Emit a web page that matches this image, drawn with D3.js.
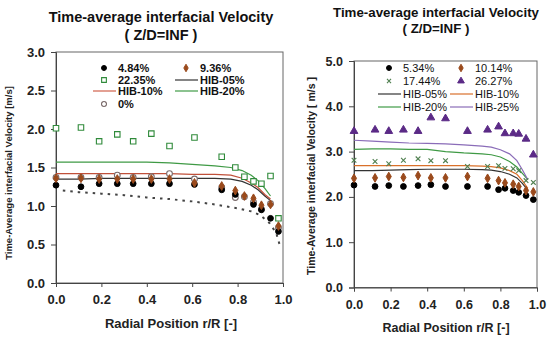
<!DOCTYPE html>
<html><head><meta charset="utf-8">
<script src="https://cdn.jsdelivr.net/npm/d3@7"></script>
<style>body{margin:0;background:#fff}svg{display:block;font-family:Arial,"Liberation Sans",sans-serif}</style>
</head><body><svg id="c" width="550" height="339"></svg>
<script>
// ---------- LEFT PANEL DATA ----------
const leftR = [0, 0.11, 0.19, 0.27, 0.34, 0.42, 0.50, 0.61, 0.73, 0.79, 0.83, 0.87, 0.905, 0.945, 0.98];
const left484 = [1.27, 1.25, 1.29, 1.29, 1.29, 1.29, 1.29, 1.28, 1.21, 1.15, null, 1.02, 0.95, 0.84, 0.67];
const left936 = [1.36, 1.36, 1.35, 1.35, 1.35, 1.35, 1.35, 1.30, 1.26, 1.20, 1.13, 1.10, 1.01, 1.02, 0.74];
const left2235 = [2.01, 2.02, 1.84, 1.93, 1.84, 1.94, 1.78, 1.89, 1.64, 1.50, 1.38, 1.32, 1.29, 1.39, 0.84];
const left0 = [1.37, 1.37, 1.37, 1.40, 1.37, 1.38, 1.42, 1.35, 1.24, 1.11, 1.12, 1.05, 0.96, 1.03, 0.72];
const leftLineR = [0, 0.1, 0.2, 0.3, 0.4, 0.5, 0.6, 0.7, 0.77, 0.82, 0.86, 0.89, 0.92, 0.945];
const leftHIB05 = [1.35, 1.35, 1.36, 1.36, 1.36, 1.36, 1.36, 1.36, 1.35, 1.32, 1.27, 1.21, 1.13, 1.07];
const leftHIB10 = [1.42, 1.42, 1.42, 1.42, 1.42, 1.42, 1.41, 1.41, 1.40, 1.36, 1.30, 1.24, 1.15, 1.09];
const leftHIB20 = [1.57, 1.57, 1.57, 1.57, 1.57, 1.56, 1.54, 1.52, 1.50, 1.46, 1.40, 1.33, 1.23, 1.13];
const leftDotR = [0.03, 0.1, 0.2, 0.3, 0.4, 0.5, 0.6, 0.7, 0.8, 0.86, 0.9, 0.94, 0.97, 0.99];
const leftDot = [1.20, 1.18, 1.16, 1.14, 1.11, 1.09, 1.06, 1.02, 0.97, 0.93, 0.88, 0.78, 0.65, 0.45];
const leftYTicks = [0, 0.5, 1.0, 1.5, 2.0, 2.5, 3.0];

// ---------- RIGHT PANEL DATA ----------
const rightR = [0, 0.115, 0.19, 0.27, 0.35, 0.42, 0.50, 0.62, 0.73, 0.79, 0.825, 0.87, 0.90, 0.94, 0.98];
const right534 = [2.26, 2.23, 2.25, 2.23, 2.25, 2.27, 2.23, 2.23, 2.23, 2.16, 2.19, 2.14, 2.10, 2.03, 1.94];
const right1014 = [2.41, 2.42, 2.45, 2.43, 2.47, 2.42, 2.42, 2.45, 2.41, 2.36, 2.31, 2.28, 2.23, 2.14, 2.11];
const right1744 = [2.81, 2.78, 2.73, 2.81, 2.84, 2.80, 2.80, 2.67, 2.67, 2.69, 2.63, 2.62, 2.58, 2.36, 2.32];
const right2627 = [3.45, 3.48, 3.45, 3.48, 3.45, 3.75, 3.73, 3.45, 3.48, 3.55, 3.40, 3.40, 3.39, 3.28, 2.93];
const rightLineR = [0, 0.1, 0.2, 0.3, 0.4, 0.5, 0.6, 0.7, 0.75, 0.8, 0.85, 0.89, 0.92, 0.95];
const rightHIB05 = [2.58, 2.58, 2.59, 2.60, 2.61, 2.61, 2.61, 2.60, 2.59, 2.56, 2.50, 2.42, 2.30, 2.15];
const rightHIB10 = [2.69, 2.69, 2.69, 2.69, 2.69, 2.69, 2.69, 2.68, 2.67, 2.64, 2.58, 2.50, 2.36, 2.19];
const rightHIB20 = [3.05, 3.06, 3.06, 3.05, 3.05, 3.00, 2.97, 2.95, 2.93, 2.88, 2.78, 2.66, 2.52, 2.38];
const rightHIB25 = [3.25, 3.23, 3.21, 3.19, 3.18, 3.17, 3.15, 3.12, 3.10, 3.04, 2.95, 2.80, 2.60, 2.38];
const rightYTicks = [0, 1.0, 2.0, 3.0, 4.0, 5.0];

const xTicks = [0, 0.2, 0.4, 0.6, 0.8, 1.0];

const svg = d3.select("#c");
const fmt = d3.format(".1f");

function symPath(type, size) {
  if (type === "times") {
    const s = Math.sqrt(size) / 2;
    return `M${-s},${-s}L${s},${s}M${-s},${s}L${s},${-s}`;
  }
  return d3.symbol().type(type).size(size)();
}

function panel(cfg) {
  const g = svg.append("g");
  const x = d3.scaleLinear().domain([0, 1]).range(cfg.xr);
  const y = d3.scaleLinear().domain(cfg.yd).range(cfg.yr);
  g.append("rect").attr("x", cfg.xr[0]).attr("y", cfg.yr[1])
    .attr("width", cfg.xr[1] - cfg.xr[0]).attr("height", cfg.yr[0] - cfg.yr[1])
    .attr("fill", "none").attr("stroke", "#666").attr("stroke-width", 1);
  const ya = g.append("g").attr("transform", `translate(${cfg.xr[0]},0)`)
    .call(d3.axisLeft(y).tickValues(cfg.yTicks).tickFormat(fmt).tickSize(5).tickPadding(6));
  const xa = g.append("g").attr("transform", `translate(0,${cfg.yr[0]})`)
    .call(d3.axisBottom(x).tickValues(xTicks).tickFormat(fmt).tickSize(4).tickPadding(cfg.xPad));
  [ya, xa].forEach(a => {
    a.select(".domain").attr("stroke", "#444");
    a.selectAll(".tick line").attr("stroke", "#444");
    a.selectAll("text").attr("fill", "#222").style("font-size", cfg.tickFs + "px").style("font-weight", "bold");
  });
  const line = d3.line().x(d => x(d[0])).y(d => y(d[1]));
  cfg.lines.forEach(L => {
    g.append("path").datum(L.r.map((r, i) => [r, L.v[i]]))
      .attr("d", line).attr("fill", "none").attr("stroke", L.color)
      .attr("stroke-width", L.w || 1.2).attr("stroke-dasharray", L.dash || null);
  });
  cfg.markers.forEach(M => {
    const pts = M.r.map((r, i) => [r, M.v[i]]).filter(d => d[1] != null);
    g.selectAll(null).data(pts).enter().append("path")
      .attr("transform", d => `translate(${x(d[0])},${y(d[1])})`)
      .attr("d", symPath(M.type, M.size))
      .attr("fill", M.fill).attr("stroke", M.stroke).attr("stroke-width", M.sw || 1);
  });
  cfg.legend.forEach(it => {
    const lg = g.append("g");
    if (it.line) {
      lg.append("line").attr("x1", it.x - 25).attr("x2", it.x - 2).attr("y1", it.y).attr("y2", it.y)
        .attr("stroke", it.line).attr("stroke-width", 1.2);
    } else {
      lg.append("path").attr("transform", `translate(${it.x - 14},${it.y})`)
        .attr("d", symPath(it.m.type, it.m.size * 0.75))
        .attr("fill", it.m.fill).attr("stroke", it.m.stroke).attr("stroke-width", it.m.sw || 1);
    }
    lg.append("text").attr("x", it.x).attr("y", it.y + 4).text(it.label)
      .style("font-size", cfg.legFs + "px").style("font-weight", cfg.legW).attr("fill", "#111");
  });
  cfg.title.forEach(t => {
    g.append("text").attr("x", t.x).attr("y", t.y).attr("text-anchor", "middle")
      .style("font-size", t.fs + "px").style("font-weight", "bold").attr("fill", "#111").text(t.text);
  });
  g.append("text").attr("transform", `translate(${cfg.ylab.x},${cfg.ylab.y}) rotate(-90)`)
    .attr("text-anchor", "middle").style("font-size", cfg.ylab.fs + "px").style("font-weight", "bold")
    .attr("fill", "#222").text(cfg.ylab.text);
  g.append("text").attr("x", cfg.xlab.x).attr("y", cfg.xlab.y).attr("text-anchor", "middle")
    .style("font-size", cfg.xlab.fs + "px").style("font-weight", "bold").attr("fill", "#222").text(cfg.xlab.text);
}

const mBlack = {type: d3.symbolCircle, size: 26, fill: "#000", stroke: "#000"};
const mBrown = {type: d3.symbolDiamond, size: 22, fill: "#9a4a1c", stroke: "#9a4a1c"};
const mSquare = {type: d3.symbolSquare, size: 30, fill: "#fff", stroke: "#2f8a3a", sw: 1.1};
const mOpen = {type: d3.symbolCircle, size: 26, fill: "#fff", stroke: "#7a6a6a", sw: 1.1};
const mTimes = {type: "times", size: 22, fill: "none", stroke: "#4f7f4f", sw: 1.1};
const mTri = {type: d3.symbolTriangle, size: 26, fill: "#5b2a86", stroke: "#5b2a86"};

panel({
  xr: [56, 283], yd: [0, 3], yr: [283, 52], yTicks: leftYTicks, tickFs: 13, xPad: 8,
  lines: [
    {r: leftDotR, v: leftDot, color: "#444", dash: "2.5,5", w: 2},
    {r: leftLineR, v: leftHIB05, color: "#333"},
    {r: leftLineR, v: leftHIB10, color: "#c0503a"},
    {r: leftLineR, v: leftHIB20, color: "#3f9a45"}
  ],
  markers: [
    Object.assign({r: leftR, v: left0}, mOpen),
    Object.assign({r: leftR, v: left484}, mBlack),
    Object.assign({r: leftR, v: left936}, mBrown),
    Object.assign({r: leftR, v: left2235}, mSquare)
  ],
  legFs: 11, legW: "bold",
  legend: [
    {x: 118, y: 68, label: "4.84%", m: mBlack},
    {x: 200, y: 68, label: "9.36%", m: mBrown},
    {x: 118, y: 80, label: "22.35%", m: mSquare},
    {x: 200, y: 80, label: "HIB-05%", line: "#333"},
    {x: 118, y: 91, label: "HIB-10%", line: "#d0604a"},
    {x: 200, y: 91, label: "HIB-20%", line: "#3f9a45"},
    {x: 118, y: 104, label: "0%", m: mOpen}
  ],
  title: [
    {x: 161, y: 22, fs: 14.5, text: "Time-average  interfacial Velocity"},
    {x: 161, y: 40, fs: 14.5, text: "( Z/D=INF )"}
  ],
  ylab: {x: 12, y: 173, fs: 9.5, text: "Time-Average interfacial Velocity [m/s]"},
  xlab: {x: 171, y: 328, fs: 13, text: "Radial Position r/R [-]"}
});

panel({
  xr: [354, 537], yd: [0, 5], yr: [287.5, 61], yTicks: rightYTicks, tickFs: 12.5, xPad: 9,
  lines: [
    {r: rightLineR, v: rightHIB05, color: "#333"},
    {r: rightLineR, v: rightHIB10, color: "#d9702a"},
    {r: rightLineR, v: rightHIB20, color: "#3f9a45"},
    {r: rightLineR, v: rightHIB25, color: "#8a6cb8"}
  ],
  markers: [
    Object.assign({r: rightR, v: right534}, mBlack),
    Object.assign({r: rightR, v: right1014}, mBrown),
    Object.assign({r: rightR, v: right1744}, mTimes),
    Object.assign({r: rightR, v: right2627}, mTri)
  ],
  legFs: 11, legW: "normal",
  legend: [
    {x: 403, y: 68, label: "5.34%", m: mBlack},
    {x: 475, y: 68, label: "10.14%", m: mBrown},
    {x: 403, y: 81, label: "17.44%", m: mTimes},
    {x: 475, y: 81, label: "26.27%", m: mTri},
    {x: 403, y: 94, label: "HIB-05%", line: "#333"},
    {x: 475, y: 94, label: "HIB-10%", line: "#d9702a"},
    {x: 403, y: 107, label: "HIB-20%", line: "#3f9a45"},
    {x: 475, y: 107, label: "HIB-25%", line: "#8a6cb8"}
  ],
  title: [
    {x: 436, y: 17, fs: 13.3, text: "Time-average  interfacial Velocity"},
    {x: 436, y: 33, fs: 13.3, text: "( Z/D=INF )"}
  ],
  ylab: {x: 315, y: 176, fs: 10.5, text: "Time-Average interfacial Velocity [ m/s ]"},
  xlab: {x: 446, y: 332, fs: 12.5, text: "Radial Position r/R [-]"}
});
</script></body></html>
